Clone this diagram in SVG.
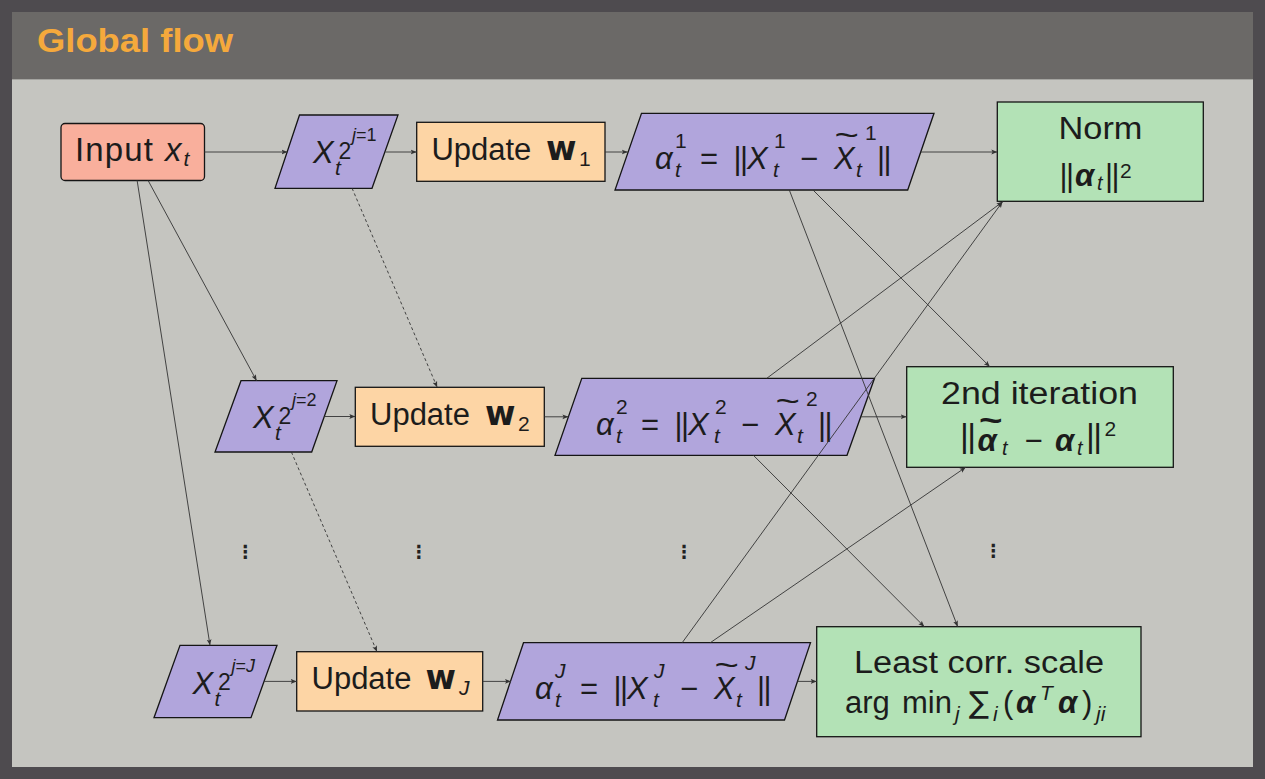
<svg xmlns="http://www.w3.org/2000/svg" width="1265" height="779" viewBox="0 0 1265 779">
<defs>
<marker id="ah" markerWidth="8" markerHeight="6" refX="6" refY="3" orient="auto" markerUnits="userSpaceOnUse">
<path d="M0,0.6 L6,3 L0,5.4 L1.3,3 z" fill="#333"/>
</marker>
</defs>
<style>
.t{font-family:"Liberation Sans",Arial,sans-serif;fill:#1c1c1c;font-size:31px}
.it{font-style:italic}
.bi{font-style:italic;font-weight:bold}
.s{font-size:21px}
.s2{font-size:23px}
.ss{font-size:18px}
.dv{font-family:"DejaVu Sans",sans-serif}
.nm{letter-spacing:-1.5px}
.wb{font-family:"DejaVu Sans",sans-serif;font-weight:bold;font-size:33px;fill:#1c1c1c}
.nd{stroke:#151515;stroke-width:1.3}
.red{fill:#f9af9c}.pur{fill:#b1a5dc}.org{fill:#fdd5a5}.grn{fill:#b3e2b6}
.e{stroke:#333;stroke-width:0.9;fill:none;marker-end:url(#ah)}
.d{stroke-dasharray:3 2.6}
.dots{font-family:"DejaVu Sans",sans-serif;font-size:18px;font-weight:bold;fill:#222;text-anchor:middle}
</style>
<rect width="1265" height="779" fill="#4e4b4f"/>
<rect x="12" y="12" width="1241" height="755" fill="#c5c5c0"/>
<rect x="12" y="12" width="1241" height="67" fill="#6b6967"/>
<rect x="12" y="79" width="1241" height="1" fill="#a4a4a0"/>
<text x="37" y="51.7" font-family="Liberation Sans,Arial,sans-serif" font-weight="bold" font-size="34" fill="#f5a93c" textLength="196" lengthAdjust="spacingAndGlyphs">Global flow</text>

<g id="input">
<rect class="nd red" x="61" y="123.5" width="143.5" height="57" rx="4"/>
<text class="t" y="160.7" font-size="33"><tspan x="75" textLength="78" font-size="33">Input</tspan><tspan x="165" class="it" font-size="33">x</tspan><tspan x="183.5" y="166" class="it s">t</tspan></text>
</g>

<g id="x1">
<polygon class="nd pur" points="299.5,115 398,115 372,188.3 275,188.3"/>
<text class="t"><tspan x="313" y="163.3" class="it">X</tspan><tspan x="335" y="175" class="it s">t</tspan><tspan x="338.5" y="159.3" class="s2">2</tspan><tspan x="352" y="141" class="ss it">j</tspan><tspan class="ss">=1</tspan></text>
</g>
<g id="x2">
<polygon class="nd pur" points="241,380.7 337,380.7 311.7,452 215,452"/>
<text class="t"><tspan x="253" y="428.3" class="it">X</tspan><tspan x="275" y="440" class="it s">t</tspan><tspan x="278.5" y="424.3" class="s2">2</tspan><tspan x="292" y="406" class="ss it">j</tspan><tspan class="ss">=2</tspan></text>
</g>
<g id="xJ">
<polygon class="nd pur" points="180,645.3 277,645.3 251,717.7 154,717.7"/>
<text class="t"><tspan x="192.5" y="694" class="it">X</tspan><tspan x="214.5" y="705.7" class="it s">t</tspan><tspan x="218" y="690" class="s2">2</tspan><tspan x="231.5" y="671.7" class="ss it">j</tspan><tspan class="ss">=</tspan><tspan class="ss it">J</tspan></text>
</g>

<g id="upd1">
<rect class="nd org" x="416.7" y="122.3" width="188.3" height="59"/>
<text class="t" x="431.4" y="160" font-size="33">Update</text>
<text class="wb" x="546" y="160">w</text>
<text class="t s" x="579" y="165.7">1</text>
</g>
<g id="upd2">
<rect class="nd org" x="355.3" y="387.3" width="189" height="59"/>
<text class="t" x="370" y="425" font-size="33">Update</text>
<text class="wb" x="485" y="425">w</text>
<text class="t s" x="518" y="430.7">2</text>
</g>
<g id="updJ">
<rect class="nd org" x="296.7" y="651.7" width="186" height="59.3"/>
<text class="t" x="311.5" y="689.3" font-size="33">Update</text>
<text class="wb" x="425.5" y="689.3">w</text>
<text class="t s it" x="459" y="695">J</text>
</g>

<g id="alpha1">
<polygon class="nd pur" points="641.5,113.3 934,113.3 907.7,190 615,190"/>
<text class="t"><tspan x="655" y="169" class="it">α</tspan><tspan x="675" y="148" class="s">1</tspan><tspan x="675" y="177" class="s it">t</tspan><tspan x="700" y="169">=</tspan><tspan x="733.5" class="nm">||</tspan><tspan x="747" class="it">X</tspan><tspan x="774" y="148" class="s">1</tspan><tspan x="773" y="177" class="s it">t</tspan><tspan x="800" y="169">−</tspan><tspan x="834" class="it">X</tspan><tspan x="856" y="177" class="s it">t</tspan><tspan x="865" y="140" class="s">1</tspan><tspan x="877" y="169" class="nm">||</tspan></text>
<text class="t" transform="translate(834.5,146) scale(1.35,1)">~</text>
</g>
<g id="alpha2">
<polygon class="nd pur" points="581.8,378.3 874.5,378.3 847,455.3 555,455.3"/>
<text class="t"><tspan x="596" y="434.5" class="it">α</tspan><tspan x="616" y="413.5" class="s">2</tspan><tspan x="616" y="442.5" class="s it">t</tspan><tspan x="641" y="434.5">=</tspan><tspan x="674.5" class="nm">||</tspan><tspan x="688" class="it">X</tspan><tspan x="715" y="413.5" class="s">2</tspan><tspan x="714" y="442.5" class="s it">t</tspan><tspan x="741" y="434.5">−</tspan><tspan x="775" class="it">X</tspan><tspan x="797" y="442.5" class="s it">t</tspan><tspan x="806" y="405.5" class="s">2</tspan><tspan x="818" y="434.5" class="nm">||</tspan></text>
<text class="t" transform="translate(775.5,411.5) scale(1.35,1)">~</text>
</g>
<g id="alphaJ">
<polygon class="nd pur" points="523.5,642.7 810.5,642.7 784.5,720 497.5,720"/>
<text class="t"><tspan x="535" y="699" class="it">α</tspan><tspan x="555" y="678" class="s it">J</tspan><tspan x="555" y="707" class="s it">t</tspan><tspan x="580" y="699">=</tspan><tspan x="613.5" class="nm">||</tspan><tspan x="627" class="it">X</tspan><tspan x="654" y="678" class="s it">J</tspan><tspan x="653" y="707" class="s it">t</tspan><tspan x="680" y="699">−</tspan><tspan x="714" class="it">X</tspan><tspan x="736" y="707" class="s it">t</tspan><tspan x="745" y="670" class="s it">J</tspan><tspan x="757" y="699" class="nm">||</tspan></text>
<text class="t" transform="translate(714.5,676) scale(1.35,1)">~</text>
</g>

<g id="norm">
<rect class="nd grn" x="997.3" y="102" width="206" height="99.3"/>
<text class="t" x="1058.5" y="139.3" font-size="32" textLength="84" lengthAdjust="spacingAndGlyphs">Norm</text>
<text class="t"><tspan x="1059.5" y="185.7" class="nm">||</tspan><tspan x="1075" class="bi">α</tspan><tspan x="1097" y="189.7" class="it" font-size="20">t</tspan><tspan x="1105" y="185.7" class="nm">||</tspan><tspan x="1120" y="178.3" class="s">2</tspan></text>
</g>
<g id="iter2">
<rect class="nd grn" x="906.7" y="366.7" width="266.6" height="100.6"/>
<text class="t" x="941" y="404.3" font-size="32" textLength="197" lengthAdjust="spacingAndGlyphs">2nd iteration</text>
<text class="t"><tspan x="960" y="447.2" font-size="34" class="nm">||</tspan><tspan x="977.6" y="450.7" class="bi">α</tspan><tspan x="1002" y="454.7" class="it" font-size="20">t</tspan><tspan x="1024.5" y="450.7">−</tspan><tspan x="1055" class="bi">α</tspan><tspan x="1077" y="454.7" class="it" font-size="20">t</tspan><tspan x="1086" y="447.2" font-size="34" class="nm">||</tspan><tspan x="1104.5" y="436" class="s">2</tspan></text>
<text class="t" font-weight="bold" transform="translate(979,431.4) scale(1.3,1)">~</text>
</g>
<g id="leastcorr">
<rect class="nd grn" x="816.7" y="626.7" width="324.3" height="110"/>
<text class="t" x="854" y="673.3" font-size="32" textLength="250" lengthAdjust="spacingAndGlyphs">Least corr.  scale</text>
<text class="t" font-size="32"><tspan x="845" y="713">arg</tspan><tspan x="902">min</tspan><tspan x="955" y="721" class="it" font-size="21">j</tspan><tspan x="969" y="713" class="dv" font-size="30">∑</tspan><tspan x="993" y="721" class="it" font-size="21">i</tspan><tspan x="1003" y="713">(</tspan><tspan x="1016" class="bi">α</tspan><tspan x="1040" y="700" class="it s">T</tspan><tspan x="1058" y="713" class="bi">α</tspan><tspan x="1082" y="713">)</tspan><tspan x="1096" y="721" class="it" font-size="21">ji</tspan></text>
</g>

<g id="vdots">
<text class="dots" x="245.5" y="558">⋮</text>
<text class="dots" x="419" y="558">⋮</text>
<text class="dots" x="684.3" y="558">⋮</text>
<text class="dots" x="993.5" y="556.5">⋮</text>
</g>

<g id="connectors">
<path class="e" d="M204.3,152 L287.5,152"/>
<path class="e" d="M385.5,152 L416.7,152"/>
<path class="e" d="M605,152 L627.8,152"/>
<path class="e" d="M920.8,152 L997.3,152"/>
<path class="e" d="M148,180.3 L256.6,380.7"/>
<path class="e" d="M137.1,180.3 L210,645.3"/>
<path class="e d" d="M352.1,188.3 L437.2,387.3"/>
<path class="e" d="M324.3,416.5 L355.3,416.5"/>
<path class="e" d="M544.3,416.8 L568.4,416.8"/>
<path class="e" d="M861,416.8 L906.7,416.8"/>
<path class="e d" d="M291.4,452 L377,651.7"/>
<path class="e" d="M264,681.4 L296.7,681.4"/>
<path class="e" d="M482.7,681.4 L511,681.4"/>
<path class="e" d="M797.4,681.4 L816.7,681.4"/>
<path class="e" d="M813,190 L989.8,366.7"/>
<path class="e" d="M789.3,190 L957.7,626.7"/>
<path class="e" d="M766.8,378.3 L1002.5,201.8"/>
<path class="e" d="M753.4,455.3 L924.3,626.7"/>
<path class="e" d="M682.2,642.7 L1002.5,201.8"/>
<path class="e" d="M710.3,642.7 L965.7,467.3"/>
</g>
</svg>
